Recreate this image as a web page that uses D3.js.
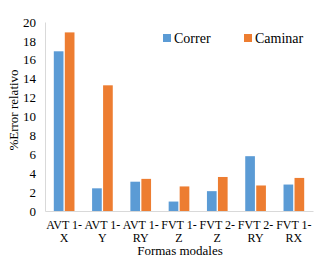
<!DOCTYPE html>
<html>
<head>
<meta charset="utf-8">
<script src="https://cdn.jsdelivr.net/npm/d3@7"></script>
<style>
  body { margin: 0; background: #fff; }
  svg text { font-family: "Liberation Serif", "Times New Roman", "DejaVu Serif", serif; fill: #000; }
</style>
</head>
<body>
<div id="chart"></div>
<script>
// Data
const categories = [["AVT 1-", "X"], ["AVT 1-", "Y"], ["AVT 1-", "RY"], ["FVT 1-", "Z"], ["FVT 2-", "Z"], ["FVT 2-", "RY"], ["FVT 1-", "RX"]];
const seriesNames = ["Correr", "Caminar"];
const correr = [16.9, 2.4, 3.1, 1.0, 2.1, 5.8, 2.8];
const caminar = [18.9, 13.3, 3.4, 2.6, 3.6, 2.7, 3.5];
const yTicks = [0, 2, 4, 6, 8, 10, 12, 14, 16, 18, 20];
const colors = ["#5B9BD5", "#ED7D31"];

const W = 322, H = 258;
const margin = { top: 22, right: 9, bottom: 47, left: 45 };
const width = W - margin.left - margin.right;
const height = H - margin.top - margin.bottom;
const serif = "'Liberation Serif', 'Times New Roman', serif";

const svg = d3.select("#chart").append("svg")
  .attr("width", W)
  .attr("height", H)
  .attr("font-family", serif);

const g = svg.append("g")
  .attr("transform", `translate(${margin.left},${margin.top})`);

const keys = categories.map((c, i) => i);
const x0 = d3.scaleBand().domain(keys).range([0, width]).paddingInner(0.46).paddingOuter(0.23);
const x1 = d3.scaleBand().domain(seriesNames).range([0, x0.bandwidth()]).paddingInner(0.12);
const y = d3.scaleLinear().domain([0, 20]).range([height, 0]);

const rows = keys.map(i => ({ i, values: [correr[i], caminar[i]] }));

// Bars
const groups = g.selectAll(".grp")
  .data(rows)
  .enter().append("g")
  .attr("transform", d => `translate(${x0(d.i)},0)`);

groups.selectAll("rect")
  .data(d => d.values.map((v, k) => ({ name: seriesNames[k], v, k })))
  .enter().append("rect")
  .attr("x", d => x1(d.name))
  .attr("y", d => y(d.v))
  .attr("width", x1.bandwidth())
  .attr("height", d => y(0) - y(d.v))
  .attr("fill", d => colors[d.k]);

// Y axis
const yAxis = g.append("g")
  .call(d3.axisLeft(y).tickValues(yTicks).tickSize(0).tickPadding(9));
yAxis.attr("font-family", serif).attr("font-size", 13);
yAxis.select(".domain").attr("stroke", "#d9d9d9");
yAxis.selectAll("text").attr("fill", "#000");

// X axis
const xAxis = g.append("g")
  .attr("transform", `translate(0,${height})`)
  .call(d3.axisBottom(x0).tickSize(0).tickFormat(""));
xAxis.select(".domain").attr("stroke", "#d9d9d9");

const xl = g.selectAll(".xl")
  .data(categories)
  .enter().append("text")
  .attr("class", "xl")
  .attr("text-anchor", "middle")
  .attr("transform", (d, i) => `translate(${x0(i) + x0.bandwidth() / 2},${height + 18})`)
  .style("font-size", "12px");
xl.append("tspan").attr("x", 0).attr("y", 0).text(d => d[0]);
xl.append("tspan").attr("x", 0).attr("y", 13).text(d => d[1]);

// Axis titles
svg.append("text")
  .attr("x", 180)
  .attr("y", 255)
  .attr("text-anchor", "middle")
  .style("font-size", "13px")
  .text("Formas modales");

svg.append("text")
  .attr("transform", `translate(18,110) rotate(-90)`)
  .attr("text-anchor", "middle")
  .style("font-size", "13px")
  .text("%Error relativo");

// Legend
const legendX = [163, 244];
const legend = svg.selectAll(".lg")
  .data(seriesNames)
  .enter().append("g")
  .attr("transform", (d, i) => `translate(${legendX[i]},34)`);
legend.append("rect")
  .attr("width", 8).attr("height", 8)
  .attr("fill", (d, i) => colors[i]);
legend.append("text")
  .attr("x", 11).attr("y", 9)
  .style("font-size", "14px")
  .text(d => d);
</script>
</body>
</html>
